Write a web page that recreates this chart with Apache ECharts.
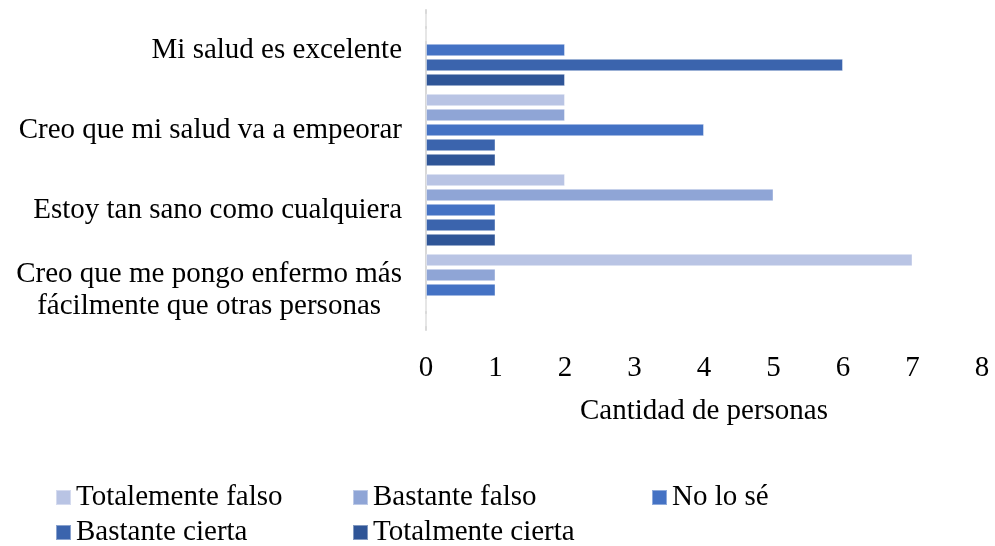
<!DOCTYPE html>
<html>
<head>
<meta charset="utf-8">
<script src="https://cdn.jsdelivr.net/npm/echarts@6/dist/echarts.min.js"></script>
<style>
  html, body { margin: 0; padding: 0; background: #fff; }
  #chart { width: 995px; height: 546px; }
</style>
</head>
<body>
<div id="chart"></div>
<script>
// categories bottom to top (category axis starts at the bottom)
const categories = [
    'Creo que me pongo enfermo más\nfácilmente que otras personas',
    'Estoy tan sano como cualquiera',
    'Creo que mi salud va a empeorar',
    'Mi salud es excelente'
];
const seriesNames = ['Totalemente falso', 'Bastante falso', 'No lo sé', 'Bastante cierta', 'Totalmente cierta'];
const totalmenteFalso = [7, 2, 2, 0];
const bastanteFalso = [1, 5, 2, 0];
const noLoSe = [1, 1, 4, 2];
const bastanteCierta = [0, 1, 1, 6];
const totalmenteCierta = [0, 1, 1, 2];
const xTicks = [0, 1, 2, 3, 4, 5, 6, 7, 8];

const colors = ['#b9c4e4', '#8fa5d6', '#4472c4', '#3b64ad', '#2f5597'];
const values = [totalmenteFalso, bastanteFalso, noLoSe, bastanteCierta, totalmenteCierta];
const font = '"Liberation Serif", "Times New Roman", serif';
const fs = 29;

const legendPos = [
    { left: 50, top: 478 }, { left: 347, top: 478 }, { left: 646, top: 478 },
    { left: 50, top: 513 }, { left: 347, top: 513 }
];

const chart = echarts.init(document.getElementById('chart'), null, { renderer: 'canvas' });
chart.setOption({
    backgroundColor: '#fff',
    animation: false,
    color: colors,
    textStyle: { fontFamily: font, color: '#000' },
    grid: { left: 426, right: 13, top: 10, height: 320, containLabel: false },
    xAxis: {
        type: 'value',
        min: xTicks[0],
        max: xTicks[xTicks.length - 1],
        interval: 1,
        splitLine: { show: false },
        axisLine: { show: false },
        axisTick: { show: false },
        axisLabel: { color: '#000', fontSize: fs, fontFamily: font, margin: 24 },
        name: 'Cantidad de personas',
        nameLocation: 'middle',
        nameGap: 67,
        nameTextStyle: { color: '#000', fontSize: fs, fontFamily: font }
    },
    yAxis: {
        type: 'category',
        data: categories,
        axisLine: { show: true, lineStyle: { color: '#d9d9d9', width: 2 } },
        axisTick: { show: false },
        axisLabel: {
            color: '#000', fontSize: fs, fontFamily: font, margin: 24, align: 'right',
            formatter: v => v.split('\n').map(l => '{c|' + l + '}').join('\n'),
            rich: { c: { align: 'center', fontSize: fs, fontFamily: font, lineHeight: 32, color: '#000' } }
        }
    },
    legend: seriesNames.map((n, i) => ({
        data: [n],
        left: legendPos[i].left,
        top: legendPos[i].top,
        itemWidth: 15,
        itemHeight: 15,
        itemGap: 6,
        icon: 'rect',
        textStyle: { color: '#000', fontSize: fs, fontFamily: font }
    })),
    series: seriesNames.map((n, i) => ({
        name: n,
        type: 'bar',
        data: values[i],
        barGap: '21%',
        barCategoryGap: '9.5%',
        itemStyle: { color: colors[i], borderColor: 'rgba(255,255,255,0.4)', borderWidth: 1 }
    }))
});
</script>
</body>
</html>
